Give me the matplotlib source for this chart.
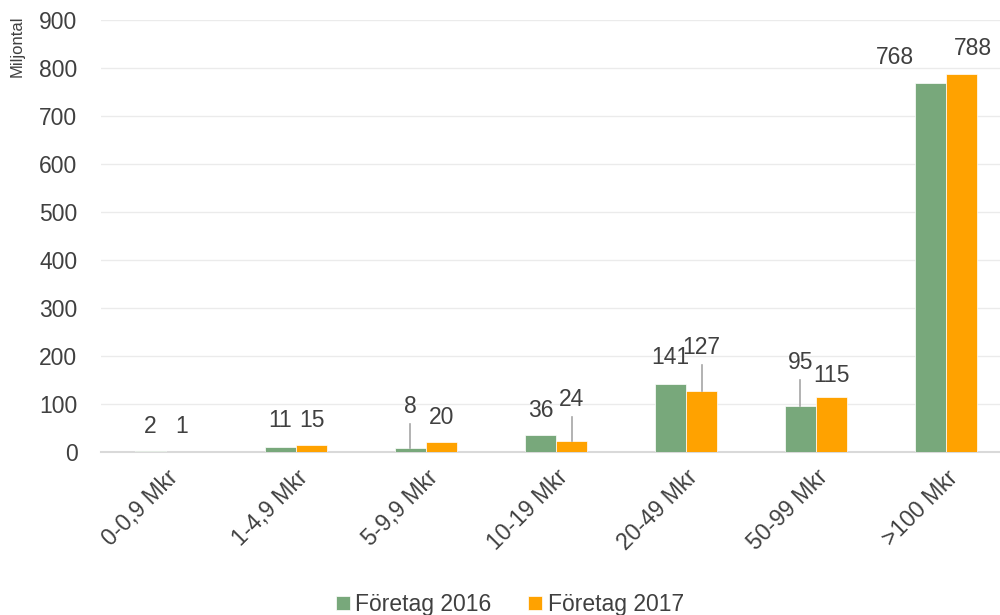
import matplotlib
matplotlib.use("Agg")
import matplotlib.pyplot as plt
import numpy as np

categories = ["0-0,9 Mkr", "1-4,9 Mkr", "5-9,9 Mkr", "10-19 Mkr",
              "20-49 Mkr", "50-99 Mkr", ">100 Mkr"]
foretag_2016 = [2, 11, 8, 36, 141, 95, 768]
foretag_2017 = [1, 15, 20, 24, 127, 115, 788]
# where the data labels sit (y in data units)
label_y_2016 = [54, 65, 94, 87, 196, 186, 822]
label_y_2017 = [54, 65, 71, 110, 218, 160, 840]
# label x offset (in category units) for the crowded top labels
label_dx_2016 = [0, 0, 0, 0, 0, 0, -0.27]
label_dx_2017 = [0, 0, 0, 0, 0, 0, 0.09]
# labels that get a leader line down to the bar
leader_2016 = [False, False, True, False, False, True, False]
leader_2017 = [False, False, False, True, True, False, False]

green = "#78A87B"
orange = "#FFA200"
text_col = "#404040"

plt.rcParams["font.family"] = ["Liberation Sans", "DejaVu Sans"]

fig = plt.figure(figsize=(10, 6.15), dpi=100)
ax = fig.add_axes([0.101, 0.265, 0.899, 0.7025])

x = np.arange(len(categories))
w = 0.24
b1 = ax.bar(x - w / 2, foretag_2016, w, color=green, label="Företag 2016",
            edgecolor="white", linewidth=0.5, zorder=3)
b2 = ax.bar(x + w / 2, foretag_2017, w, color=orange, label="Företag 2017",
            edgecolor="white", linewidth=0.5, zorder=3)

fs = 16.5
for xs, vals, ly, dx, lead in [
        (x - w / 2, foretag_2016, label_y_2016, label_dx_2016, leader_2016),
        (x + w / 2, foretag_2017, label_y_2017, label_dx_2017, leader_2017)]:
    for xi, v, yl, d, ld in zip(xs, vals, ly, dx, lead):
        ax.text(xi + d, yl, str(v), ha="center", va="center",
                fontsize=fs, color=text_col, zorder=5)
        if ld:
            ax.plot([xi, xi], [v, yl - 36], color="#A6A6A6", lw=1.2, zorder=4)

ax.set_ylim(0, 900)
ax.set_yticks(range(0, 901, 100))
ax.set_xlim(-0.5, 6.415)
ax.set_xticks(x)
ax.set_xticklabels(categories, rotation=45, ha="right", rotation_mode="anchor")
ax.tick_params(axis="both", length=0, labelsize=fs, colors=text_col)
ax.tick_params(axis="x", pad=10)
ax.tick_params(axis="y", pad=17)
ax.grid(axis="y", color="#EBEBEB", lw=1, zorder=0)
for s in ["top", "right", "left"]:
    ax.spines[s].set_visible(False)
ax.spines["bottom"].set_color("#D9D9D9")
ax.spines["bottom"].set_linewidth(1.5)

fig.text(0.0175, 0.924, "Miljontal", rotation=90, ha="center", va="center",
         fontsize=12, color=text_col)

fig.legend(handles=[b1, b2], loc="lower center", bbox_to_anchor=(0.51, -0.035),
           ncol=2, frameon=False, fontsize=fs, labelcolor=text_col,
           handlelength=0.6, handleheight=0.6, handletextpad=0.25, columnspacing=1.6)

fig.savefig("out.png", dpi=100)
